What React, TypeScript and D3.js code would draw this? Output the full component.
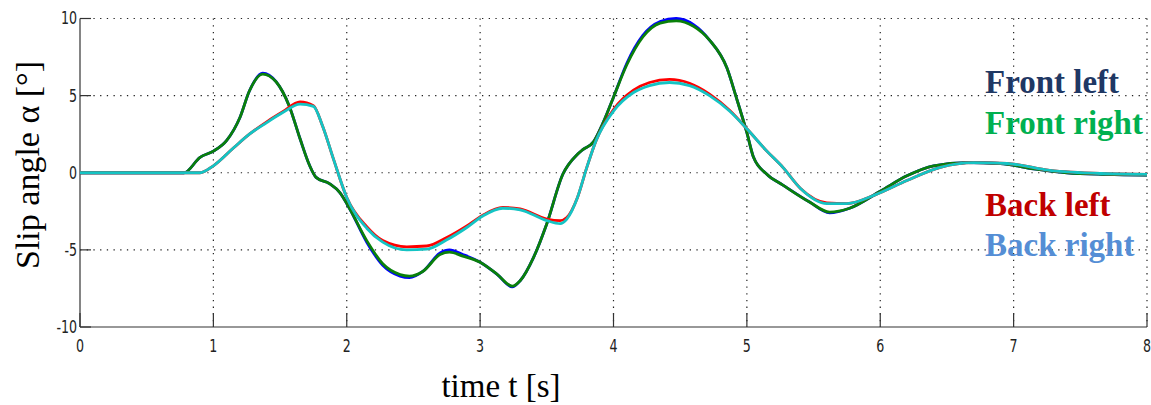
import React from "react";
import * as d3 from "d3";

// time samples (s)
const tFront = [0, 0.5, 0.78, 0.9, 1.0, 1.1, 1.2, 1.27, 1.37, 1.47, 1.57, 1.65, 1.72, 1.77, 1.87, 1.95, 2.02, 2.15, 2.27, 2.4, 2.47, 2.57, 2.7, 2.77, 2.87, 3.0, 3.13, 3.24, 3.3, 3.4, 3.5, 3.62, 3.73, 3.77, 3.85, 3.92, 4.0, 4.1, 4.22, 4.35, 4.47, 4.6, 4.72, 4.85, 4.92, 5.0, 5.05, 5.15, 5.27, 5.47, 5.62, 5.77, 6.0, 6.2, 6.4, 6.65, 6.9, 7.15, 7.4, 7.7, 8.0];
const frontLeft = [0, 0, 0, 1.0, 1.4, 2.1, 3.6, 5.3, 6.45, 5.9, 4.3, 2.2, 0.5, -0.3, -0.7, -1.3, -2.3, -4.5, -6.0, -6.7, -6.8, -6.4, -5.2, -5.0, -5.3, -5.8, -6.6, -7.4, -7.0, -5.5, -3.3, -0.1, 1.2, 1.5, 2.0, 3.2, 4.9, 7.1, 8.9, 9.8, 10.0, 9.6, 8.6, 6.8, 4.9, 2.6, 1.0, -0.1, -0.8, -1.9, -2.6, -2.3, -1.2, -0.2, 0.45, 0.65, 0.6, 0.25, 0.0, -0.1, -0.15];
const frontRight = [0, 0, 0, 1.0, 1.4, 2.1, 3.6, 5.3, 6.4, 5.9, 4.3, 2.2, 0.5, -0.3, -0.7, -1.3, -2.3, -4.4, -5.9, -6.6, -6.7, -6.4, -5.3, -5.15, -5.4, -5.8, -6.6, -7.35, -7.0, -5.5, -3.3, -0.1, 1.2, 1.5, 2.0, 3.2, 4.9, 7.0, 8.8, 9.7, 9.85, 9.5, 8.6, 6.8, 4.9, 2.6, 1.0, -0.1, -0.8, -1.9, -2.55, -2.3, -1.2, -0.2, 0.45, 0.65, 0.6, 0.25, 0.0, -0.1, -0.15];

const tBack = [0, 0.5, 0.9, 1.0, 1.15, 1.27, 1.4, 1.52, 1.65, 1.75, 1.82, 1.9, 2.0, 2.15, 2.27, 2.45, 2.6, 2.75, 2.9, 3.02, 3.17, 3.3, 3.5, 3.6, 3.65, 3.73, 3.8, 3.87, 4.0, 4.15, 4.27, 4.42, 4.57, 4.72, 4.87, 5.0, 5.15, 5.27, 5.4, 5.6, 5.75, 5.97, 6.2, 6.45, 6.7, 6.95, 7.27, 7.65, 8.0];
const backLeft = [0, 0, 0, 0.45, 1.6, 2.5, 3.3, 3.95, 4.6, 4.35, 3.0, 0.9, -1.6, -3.5, -4.4, -4.8, -4.75, -4.2, -3.45, -2.75, -2.25, -2.35, -3.0, -3.1, -2.9, -1.6, 0.35, 2.1, 4.1, 5.35, 5.85, 6.05, 5.8, 5.1, 4.05, 2.85, 1.4, 0.35, -1.0, -1.95, -2.0, -1.4, -0.5, 0.35, 0.65, 0.6, 0.15, -0.05, -0.1];
const backRight = [0, 0, 0, 0.45, 1.6, 2.5, 3.25, 3.9, 4.45, 4.3, 3.0, 0.9, -1.6, -3.6, -4.5, -5.0, -4.95, -4.35, -3.55, -2.8, -2.3, -2.4, -3.1, -3.3, -3.0, -1.6, 0.35, 2.1, 4.0, 5.2, 5.65, 5.85, 5.65, 5.0, 4.0, 2.85, 1.4, 0.35, -1.0, -2.0, -2.0, -1.4, -0.5, 0.35, 0.65, 0.6, 0.15, -0.05, -0.1];

const xTicks = [0, 1, 2, 3, 4, 5, 6, 7, 8];
const yTicks = [-10, -5, 0, 5, 10];

const series = [
  { name: "Front left", t: tFront, v: frontLeft, stroke: "#0000ff", label: "#1f3864" },
  { name: "Front right", t: tFront, v: frontRight, stroke: "#0a800a", label: "#00b050" },
  { name: "Back left", t: tBack, v: backLeft, stroke: "#ff0000", label: "#c00000" },
  { name: "Back right", t: tBack, v: backRight, stroke: "#14c4c4", label: "#558ed5" },
];
const legendY = [93, 134, 216, 256];

const W = 1151, H = 405;
const tickFont = "'Liberation Sans Narrow', 'Arial Narrow', 'DejaVu Sans Condensed', sans-serif";
const serif = "'Liberation Serif', 'Times New Roman', serif";

export default function App() {
  const x = d3.scaleLinear().domain([0, 8]).range([80, 1147]);
  const y = d3.scaleLinear().domain([-10, 10]).range([327, 18.5]);

  const line = d3.line<[number, number]>()
    .x(d => x(d[0]))
    .y(d => y(d[1]))
    .curve(d3.curveMonotoneX);

  const grid = { stroke: "#222", strokeWidth: 1.2, strokeDasharray: "1.3,5.4" };
  // narrow the tick digits like the original's condensed font
  const squeeze = (cx: number) => `translate(${cx},0) scale(0.78,1) translate(${-cx},0)`;

  return (
    <svg width={W} height={H} style={{ position: "absolute", left: 0, top: 0, background: "#fff" }}>
      {/* grid */}
      {xTicks.filter(t => t > 0).map(t => (
        <line key={"gx" + t} x1={x(t)} x2={x(t)} y1={y(10)} y2={y(-10)} {...grid} />
      ))}
      {yTicks.filter(v => v > -10).map(v => (
        <line key={"gy" + v} x1={x(0)} x2={x(8)} y1={y(v)} y2={y(v)} {...grid} />
      ))}

      {/* axes */}
      <line x1={x(0)} x2={x(8)} y1={y(-10)} y2={y(-10)} stroke="#333" strokeWidth={1.2} />
      <line x1={x(0)} x2={x(0)} y1={y(-10)} y2={y(10)} stroke="#333" strokeWidth={1.2} />
      {xTicks.map(t => (
        <g key={"xt" + t}>
          <line x1={x(t)} x2={x(t)} y1={y(-10)} y2={y(-10) - 14} stroke="#333" strokeWidth={1.2} />
          <text x={x(t)} y={y(-10) + 25} textAnchor="middle" fontFamily={tickFont} fontSize={18} fill="#222"
            transform={squeeze(x(t))}>{t}</text>
        </g>
      ))}
      {yTicks.map(v => (
        <g key={"yt" + v}>
          <line x1={x(0)} x2={x(0) + 11} y1={y(v)} y2={y(v)} stroke="#333" strokeWidth={1.2} />
          <text x={x(0) - 3} y={y(v)} dy="0.33em" textAnchor="end" fontFamily={tickFont} fontSize={18} fill="#222"
            transform={squeeze(x(0) - 3)}>{v}</text>
        </g>
      ))}

      {/* data */}
      {series.map(s => (
        <path key={s.name} d={line(s.t.map((t, i) => [t, s.v[i]] as [number, number])) || ""}
          fill="none" stroke={s.stroke} strokeWidth={2.8} strokeLinejoin="round" />
      ))}

      {/* legend */}
      {series.map((s, i) => (
        <text key={"lg" + s.name} x={985} y={legendY[i]} fontFamily={serif} fontWeight="bold" fontSize={33} fill={s.label}>{s.name}</text>
      ))}

      {/* axis titles */}
      <text x={501} y={397} textAnchor="middle" fontFamily={serif} fontSize={33} fill="#000">time t [s]</text>
      <text transform="translate(39,165) rotate(-90)" textAnchor="middle" fontFamily={serif} fontSize={34} fill="#000">Slip angle α [°]</text>
    </svg>
  );
}
